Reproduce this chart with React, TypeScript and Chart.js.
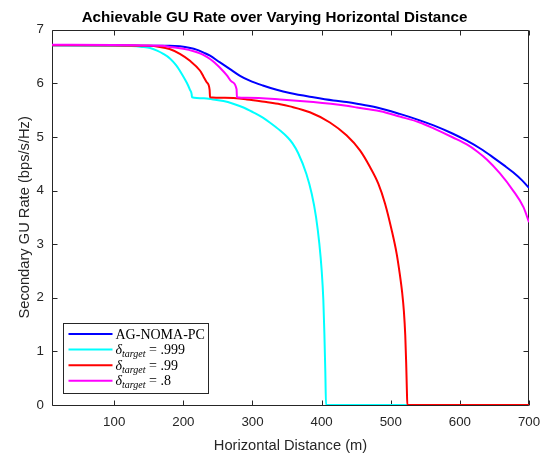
import React, { useEffect, useRef } from "react";
import { Chart, registerables } from "chart.js";
Chart.register(...registerables);

const titleText = "Achievable GU Rate over Varying Horizontal Distance";
const xLabel = "Horizontal Distance (m)";
const yLabel = "Secondary GU Rate (bps/s/Hz)";

const xTicks = [100, 200, 300, 400, 500, 600, 700];
const yTicks = [0, 1, 2, 3, 4, 5, 6, 7];

const blueX = [10, 100, 150, 180, 195, 210, 219, 230, 238, 253, 267, 282, 296, 315, 335, 354, 388, 417, 436, 451, 480, 513, 542, 562, 590, 610, 630, 648, 665, 677, 690, 700];
const blueY = [6.71, 6.71, 6.70, 6.70, 6.69, 6.66, 6.63, 6.57, 6.52, 6.39, 6.27, 6.14, 6.05, 5.96, 5.88, 5.82, 5.74, 5.68, 5.65, 5.62, 5.55, 5.43, 5.31, 5.215, 5.06, 4.93, 4.78, 4.62, 4.46, 4.34, 4.19, 4.05];

const cyanX = [10, 100, 125, 140, 152, 162, 171, 181, 190, 198, 205, 209.6, 212, 212.5, 230, 243, 258, 272, 287, 301, 315, 325, 340, 351, 358, 366, 378, 385.7, 391.9, 396.7, 400.1, 402.5, 404, 405.4, 406.4, 700];
const cyanY = [6.71, 6.70, 6.695, 6.68, 6.66, 6.61, 6.55, 6.46, 6.33, 6.17, 6.01, 5.88, 5.80, 5.74, 5.72, 5.70, 5.67, 5.62, 5.55, 5.46, 5.36, 5.27, 5.12, 4.99, 4.88, 4.70, 4.31, 3.94, 3.51, 3.01, 2.51, 1.96, 1.34, 0.6, 0, 0];

const redX = [10, 150, 166, 180, 195, 209.6, 224, 229, 233.8, 238, 238.6, 260, 292, 320, 340, 354, 383, 412, 436, 455.5, 470, 482, 491.7, 501.4, 508.6, 513, 516.5, 519, 521, 522.3, 523.3, 524, 700];
const redY = [6.71, 6.70, 6.68, 6.64, 6.55, 6.42, 6.24, 6.13, 6.02, 5.88, 5.74, 5.73, 5.70, 5.65, 5.61, 5.57, 5.46, 5.27, 5.03, 4.75, 4.44, 4.13, 3.76, 3.26, 2.82, 2.45, 2.10, 1.75, 1.30, 0.8, 0.3, 0, 0];

const magentaX = [10, 170, 180, 200, 215, 224, 232, 238.6, 245, 253, 263, 270, 277, 277.5, 292, 340, 388, 436, 451, 465, 485, 513, 542, 562, 590, 610, 625, 639, 658, 677, 692, 700];
const magentaY = [6.72, 6.70, 6.68, 6.645, 6.60, 6.56, 6.51, 6.455, 6.39, 6.29, 6.15, 6.03, 5.89, 5.74, 5.73, 5.70, 5.65, 5.58, 5.55, 5.52, 5.48, 5.38, 5.27, 5.16, 4.99, 4.86, 4.73, 4.58, 4.32, 4.00, 3.69, 3.41];

const seriesNames = ["AG-NOMA-PC", "δtarget = .999", "δtarget = .99", "δtarget = .8"];
const legendMain = ["AG-NOMA-PC", "δ", "δ", "δ"];
const legendSub = ["", "target", "target", "target"];
const legendRest = ["", " = .999", " = .99", " = .8"];
const seriesColors = ["#0000ff", "#00ffff", "#ff0000", "#ff00ff"];

const sans = "'Liberation Sans', Arial, Helvetica, sans-serif";
const serif = "'Liberation Serif', 'Times New Roman', serif";

function pts(xs: number[], ys: number[]) {
  return xs.map((x, i) => ({ x, y: ys[i] }));
}

const framePlugin = {
  id: "matlabFrame",
  beforeDatasetsDraw(chart: any) {
    const { ctx, chartArea } = chart;
    const xs = chart.scales.x;
    const ys = chart.scales.y;
    const l = Math.round(chartArea.left) + 0.5;
    const r = Math.round(chartArea.right) - 0.5;
    const t = Math.round(chartArea.top) + 0.5;
    const b = Math.round(chartArea.bottom) + 0.5;
    ctx.save();
    ctx.strokeStyle = "#262626";
    ctx.lineWidth = 1;
    ctx.beginPath();
    ctx.rect(l, t, r - l, b - t);
    const tl = 5;
    xTicks.forEach((v) => {
      const px = Math.round(xs.getPixelForValue(v)) + 0.5;
      ctx.moveTo(px, b);
      ctx.lineTo(px, b - tl);
      ctx.moveTo(px, t);
      ctx.lineTo(px, t + tl);
    });
    yTicks.forEach((v) => {
      const py = Math.round(ys.getPixelForValue(v)) + 0.5;
      ctx.moveTo(l, py);
      ctx.lineTo(l + tl, py);
      ctx.moveTo(r, py);
      ctx.lineTo(r - tl, py);
    });
    ctx.stroke();
    ctx.restore();
  },
  afterDraw(chart: any) {
    const { ctx, chartArea } = chart;
    const bx = Math.round(chartArea.left + 11) + 0.5;
    const by = Math.round(chartArea.bottom - 82) + 0.5;
    const bw = 145;
    const bh = 70;
    ctx.save();
    ctx.fillStyle = "#ffffff";
    ctx.fillRect(bx, by, bw, bh);
    ctx.strokeStyle = "#262626";
    ctx.lineWidth = 1;
    ctx.strokeRect(bx, by, bw, bh);
    for (let i = 0; i < legendMain.length; i++) {
      const cy = by + 10.5 + i * 15.6;
      ctx.strokeStyle = seriesColors[i];
      ctx.lineWidth = 2;
      ctx.beginPath();
      ctx.moveTo(bx + 5, cy);
      ctx.lineTo(bx + 49, cy);
      ctx.stroke();
      ctx.fillStyle = "#000000";
      ctx.textBaseline = "alphabetic";
      ctx.textAlign = "left";
      let tx = bx + 52;
      const base = cy + 4.5;
      if (!legendSub[i]) {
        ctx.font = `14px ${serif}`;
        ctx.fillText(legendMain[i], tx, base);
      } else {
        ctx.font = `italic 14px ${serif}`;
        ctx.fillText(legendMain[i], tx, base);
        tx += ctx.measureText(legendMain[i]).width;
        ctx.font = `italic 10px ${serif}`;
        ctx.fillText(legendSub[i], tx, base + 3);
        tx += ctx.measureText(legendSub[i]).width;
        ctx.font = `14px ${serif}`;
        ctx.fillText(legendRest[i], tx, base);
      }
    }
    ctx.restore();
  },
};

export default function App() {
  const ref = useRef<HTMLCanvasElement | null>(null);
  useEffect(() => {
    document.body.style.margin = "0";
    const canvas = ref.current;
    if (!canvas) return;
    const datasets = [
      { data: pts(blueX, blueY), order: 3 },
      { data: pts(cyanX, cyanY), order: 2 },
      { data: pts(redX, redY), order: 1 },
      { data: pts(magentaX, magentaY), order: 0 },
    ].map((d, i) => ({
      ...d,
      label: seriesNames[i],
      borderColor: seriesColors[i],
      backgroundColor: seriesColors[i],
      borderWidth: 2,
      pointRadius: 0,
      cubicInterpolationMode: "monotone",
      fill: false,
    }));
    const chart = new Chart(canvas, {
      type: "line",
      data: { datasets },
      plugins: [framePlugin],
      options: {
        animation: false,
        responsive: false,
        devicePixelRatio: 1,
        layout: { padding: { left: 20, right: 25, top: 0, bottom: 0 } },
        plugins: {
          legend: { display: false },
          tooltip: { enabled: false },
          title: {
            display: true,
            text: titleText,
            color: "#000000",
            font: { family: sans, size: 15.2, weight: "bold" },
            padding: { top: 8.5, bottom: 3 },
          },
        },
        scales: {
          x: {
            type: "linear",
            min: 10,
            max: 700,
            afterBuildTicks: (s: any) => {
              s.ticks = xTicks.map((v) => ({ value: v }));
            },
            afterFit: (s: any) => {
              s.height = 51;
            },
            grid: { display: false, drawTicks: false },
            border: { display: false },
            ticks: {
              color: "#262626",
              font: { family: sans, size: 13.3 },
              padding: 9,
              maxRotation: 0,
              autoSkip: false,
            },
            title: {
              display: true,
              text: xLabel,
              color: "#262626",
              font: { family: sans, size: 14.7 },
              padding: { top: 0, bottom: 1 },
            },
          },
          y: {
            type: "linear",
            min: 0,
            max: 7,
            afterBuildTicks: (s: any) => {
              s.ticks = yTicks.map((v) => ({ value: v }));
            },
            afterFit: (s: any) => {
              s.width = 32;
            },
            grid: { display: false, drawTicks: false },
            border: { display: false },
            ticks: {
              color: "#262626",
              font: { family: sans, size: 13.3 },
              padding: 8,
              autoSkip: false,
            },
            title: {
              display: true,
              text: yLabel,
              color: "#262626",
              font: { family: sans, size: 14.7 },
              padding: { top: -4, bottom: 0 },
            },
          },
        },
      } as any,
    });
    return () => chart.destroy();
  }, []);
  return <canvas ref={ref} width={554} height={456} style={{ display: "block" }} />;
}
